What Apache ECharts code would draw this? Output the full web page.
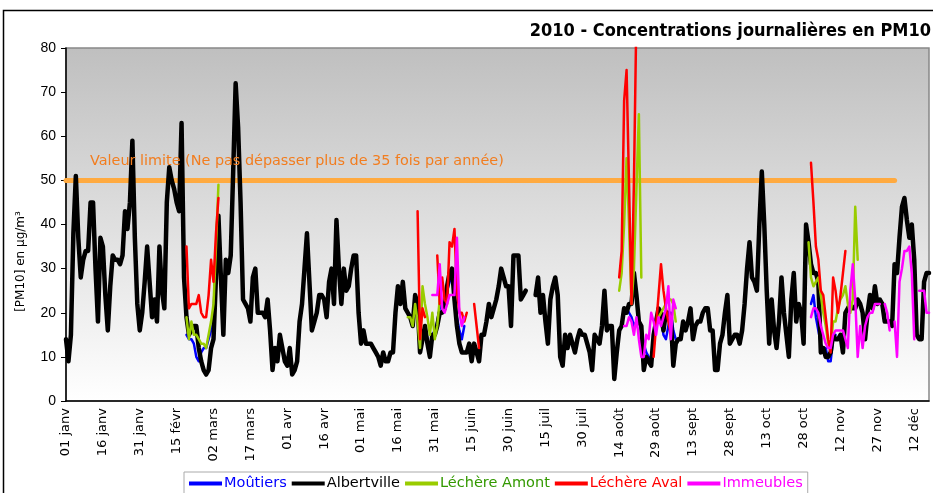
<!DOCTYPE html>
<html><head><meta charset="utf-8">
<script src="https://cdn.jsdelivr.net/npm/echarts@6/dist/echarts.min.js"></script>
<style>html,body{margin:0;padding:0;background:#fff}#c{width:933px;height:493px}</style>
</head><body><div id="c"></div>
<script>
// ---- DATA ----
const monthNames = ['janv','févr','mars','avr','mai','juin','juil','août','sept','oct','nov','déc'];
const dayCount = 352; // 01 janv .. 18 déc (visible part)
const labelEvery = 15;
const yTicks = [0,10,20,30,40,50,60,70,80];

const albertville = [
14,9,15,38,51,37,28,32,34,34,
45,45,30,18,37,35,24,16,26,33,
32,32,31,33,43,39,45,59,37,22,
16,20,27,35,27,19,23,18,35,25,
21,45,53,50,48,45,43,63,28,19,
15,16,17,17,12,9,7,6,7,12,
14,28,42,28,15,32,29,33,52,72,
62,45,23,22,21,18,28,30,20,20,
20,19,23,16,7,12,9,15,12,9,
8,12,6,7,9,18,22,30,38,27,
16,18,20,24,24,23,19,27,30,22,
41,30,22,30,25,26,30,33,33,20,
13,16,13,13,13,12,11,10,8,11,
9,9,11,11,20,26,22,27,21,20,
19,17,24,22,11,14,17,13,10,15,
15,17,20,20,21,26,29,30,23,17,
13,11,11,11,13,9,13,11,9,15,
15,18,22,19,21,23,26,30,28,26,
26,17,33,33,33,23,24,25,null,null,
null,24,28,20,24,18,13,23,26,28,
24,10,8,15,12,15,13,11,14,16,
15,15,13,11,7,15,14,13,17,25,
16,17,17,5,11,16,17,21,20,22,
22,29,24,18,17,7,10,9,8,15,
18,21,20,16,20,20,19,8,13,14,
14,18,16,18,21,14,17,18,18,20,
21,21,16,16,7,7,13,15,20,24,
13,14,15,15,13,16,22,30,36,28,
27,25,40,52,40,25,13,23,16,12,
18,28,20,15,10,23,29,18,22,20,
13,40,36,31,29,29,27,11,12,10,
10,11,15,14,14,15,11,20,21,22,
21,21,23,22,20,14,20,24,21,26,
22,23,22,18,18,18,17,31,29,37,
44,46,41,37,40,32,15,14,14,27,
29,29
];

// partial series: [first day index, values...]
const moutiersSegments = [
  [49, [15,14,14,13,10,9,11,12,12,14,16,18]],
  [138,[21,20,19,17,22,20,13,15,17,14,12,15,16,18,21,22,22,25,27,28,24,19,16,14,17]],
  [226,[17,21,21,20,19,17,18,18,16,13,11,10,9,14,18,21,19,15,14,17,20,16,14]],
  [303,[22,24,19,16,13,11,12,9,9,14,15]]
];
const amontSegments = [
  [49, [19,14,18,15,15,14,13,13,12,15,18,22,35,49]],
  [139,[19,19,17,22,18,12,26,22,19,15,20,14,17,23]],
  [225,[25,29,40,55,40,22,30,48,65,28]],
  [240,[17,19,20,21,22,23,23,22,18]],
  [302,[36,28,26,27,28,24,20,17,13,12,18,18,21,23,24,26,22,20,23,44,32]]
];
const avalSegments = [
  [49, [35,21,22,22,22,24,20,19,19,24,32,27,38,46]],
  [143,[43,14,21,19]],
  [151,[33,22,28,23,22,36,35,39,25,20,20,18,20]],
  [166,[22,17,12]],
  [225,[28,34,68,75,49,22,50,88]],
  [239,[10,17,24,31,25,21,18,15]],
  [303,[54,45,35,32,25,24,19,14,11,28,25,20,24,29,34]]
];
const immeublesSegments = [
  [149,[24,24,24,31,21,20,22,24,24,24,37,20,17,19]],
  [227,[17,17,19,18,15,19,14,10,10,15,14,20,18,15,19,17,19,21,26,14,23,21]],
  [303,[19,21,21,20,17,15,13,12,12,15,16,16,16,16,14,12,25,31,23,10,17,12,17,19,20,20,22,22,22]],
  [333,[22,20,16]],
  [337,[18,10,27,30,34,34,35,29,14]],
  [347,[25,25,25,20,20]]
];
const limitValue = 50;
const limitLastDay = 337;

// ---- BUILD ----
function fromSegments(segs){
  const arr = new Array(dayCount).fill(null);
  segs.forEach(([s, vals]) => vals.forEach((v,i) => { arr[s+i] = v; }));
  return arr;
}
const categories = [];
for (let i = 0; i < dayCount; i++) {
  const d = new Date(Date.UTC(2010, 0, 1 + i));
  const dd = String(d.getUTCDate()).padStart(2,'0');
  categories.push(dd + ' ' + monthNames[d.getUTCMonth()]);
}
const limitData = categories.map((c,i) => i <= limitLastDay ? limitValue : null);

const chart = echarts.init(document.getElementById('c'), null, {renderer:'canvas'});
const lineSeries = (name, data, color, width, z) => ({
  name, type:'line', data, showSymbol:false, symbol:'none', connectNulls:false,
  lineStyle:{color, width, join:'round', cap:'round'}, itemStyle:{color}, z, clip:true
});
chart.setOption({
  animation:false,
  backgroundColor:'#fff',
  title:{
    text:'2010 - Concentrations journalières en PM10', right:-3, top:17,
    textStyle:{fontSize:18, fontWeight:'bold', color:'#000', fontFamily:'"DejaVu Sans Condensed","Liberation Sans Narrow",sans-serif'}
  },
  grid:{
    left:66, right:4, top:48, bottom:92, show:true, borderColor:'#888', borderWidth:1.5,
    backgroundColor:{type:'linear', x:0, y:0, x2:0, y2:1,
      colorStops:[{offset:0,color:'#bfbfbf'},{offset:1,color:'#ffffff'}]}
  },
  legend:{
    left:184, top:472, padding:[4,5,8,5], itemGap:5, itemWidth:33, itemHeight:4, icon:'rect',
    borderColor:'#aaa', borderWidth:1, backgroundColor:'#fff',
    textStyle:{fontSize:14.5, fontFamily:'"DejaVu Sans",sans-serif', padding:[0,0,0,-3]},
    data:[
      {name:'Moûtiers', textStyle:{color:'#0000ff'}},
      {name:'Albertville', textStyle:{color:'#000'}},
      {name:'Léchère Amont', textStyle:{color:'#339900'}},
      {name:'Léchère Aval', textStyle:{color:'#ff0000'}},
      {name:'Immeubles', textStyle:{color:'#ff00ff'}}
    ]
  },
  xAxis:{
    type:'category', data:categories, boundaryGap:false,
    axisLine:{lineStyle:{color:'#000', width:1.5}},
    axisTick:{show:false},
    axisLabel:{interval:labelEvery-1, rotate:90, fontSize:13, color:'#000', margin:7,
      fontFamily:'"DejaVu Sans",sans-serif'},
    splitLine:{show:false}
  },
  yAxis:{
    type:'value', min:yTicks[0], max:yTicks[yTicks.length-1], interval:10,
    name:'[PM10] en µg/m³', nameLocation:'middle', nameGap:39,
    nameTextStyle:{fontSize:12, color:'#000', fontFamily:'"DejaVu Sans",sans-serif', padding:[0,74,0,0]},
    axisLine:{show:true, lineStyle:{color:'#000', width:1.5}},
    axisTick:{show:true, inside:false, length:5, lineStyle:{color:'#000'}},
    axisLabel:{fontSize:14, color:'#000', margin:10, fontFamily:'"Liberation Sans",sans-serif'},
    splitLine:{show:false}
  },
  graphic:[
    {type:'rect', z:100, shape:{x:3.5, y:10.5, width:960, height:520},
      style:{fill:'none', stroke:'#000', lineWidth:1.5}},
    {type:'text', left:90, top:154, z:100,
      style:{text:'Valeur limite (Ne pas dépasser plus de 35 fois par année)', fill:'#f27d1f',
        font:'14.4px "DejaVu Sans", sans-serif'}}
  ],
  series:[
    lineSeries('Valeur limite', limitData, '#ffaa40', 5, 1),
    lineSeries('Moûtiers', fromSegments(moutiersSegments), '#0000ff', 2.5, 2),
    lineSeries('Albertville', albertville, '#000000', 4.5, 3),
    lineSeries('Léchère Amont', fromSegments(amontSegments), '#99cc00', 2.5, 4),
    lineSeries('Léchère Aval', fromSegments(avalSegments), '#ff0000', 2.5, 5),
    lineSeries('Immeubles', fromSegments(immeublesSegments), '#ff00ff', 2.5, 6)
  ]
});
</script></body></html>
